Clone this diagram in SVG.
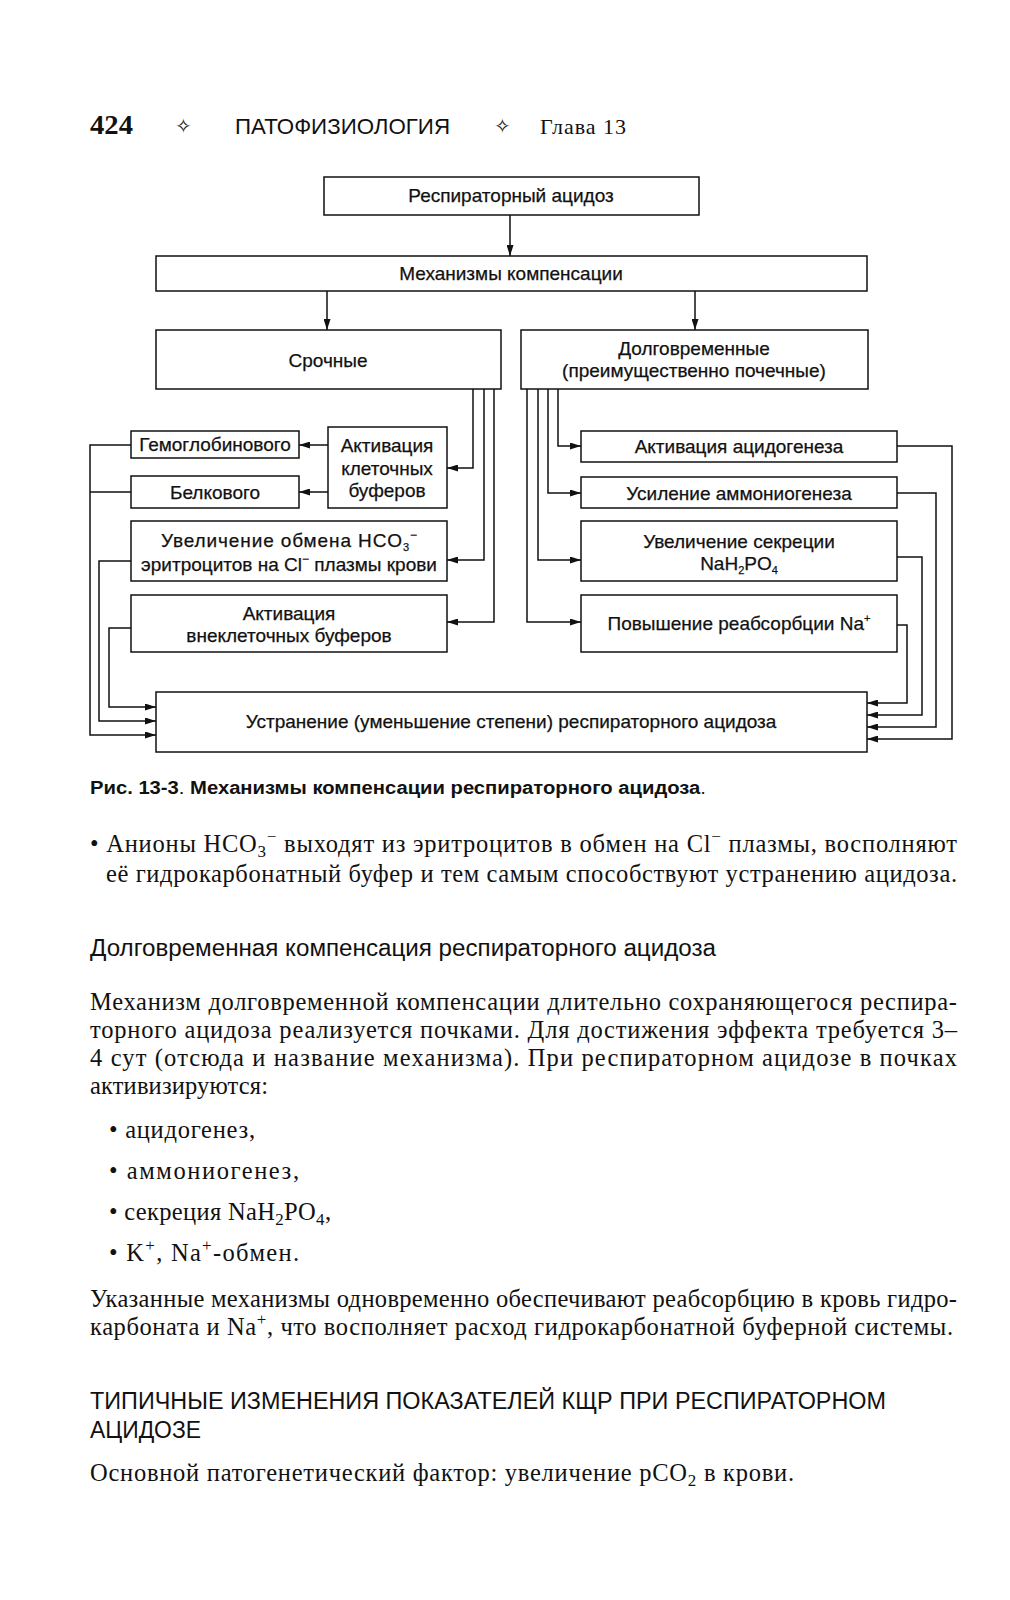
<svg xmlns="http://www.w3.org/2000/svg" width="1010" height="1600" viewBox="0 0 1010 1600">
<style>
.bg{fill:#ffffff}
.box{fill:#ffffff;stroke:#111;stroke-width:1.5}
.t{font-family:"Liberation Sans","Noto Sans",sans-serif;font-size:19px;fill:#111;stroke:#111;stroke-width:0.25;text-anchor:middle}
.c{fill:none;stroke:#111;stroke-width:1.5}
.body{font-family:"Liberation Serif","DejaVu Serif",serif;font-size:24.5px;fill:#111}
.h{font-family:"Liberation Sans","Noto Sans",sans-serif;font-size:23px;fill:#111}
</style>
<defs>
<marker id="ah" viewBox="0 0 11 7" refX="11" refY="3.5" markerWidth="11" markerHeight="7" orient="auto" markerUnits="userSpaceOnUse">
<path d="M0,0 L11,3.5 L0,7 Z" fill="#111"/>
</marker>
</defs>
<rect class="bg" x="0" y="0" width="1010" height="1600"/>

<g id="header">
<text x="90" y="134" font-family="Liberation Serif, serif" font-weight="bold" font-size="27" fill="#111" textLength="43" lengthAdjust="spacingAndGlyphs">424</text>
<text x="175" y="133" font-family="DejaVu Sans, sans-serif" font-size="20" fill="#111">✧</text>
<text x="235" y="134" font-family="Liberation Sans, sans-serif" font-size="22" fill="#111" textLength="215" lengthAdjust="spacingAndGlyphs">ПАТОФИЗИОЛОГИЯ</text>
<text x="494" y="133" font-family="DejaVu Sans, sans-serif" font-size="20" fill="#111">✧</text>
<text x="540" y="134" font-family="Liberation Serif, serif" font-size="22" fill="#111" textLength="86">Глава 13</text>
</g>

<g id="connectors">
<path class="c" marker-end="url(#ah)" d="M510,215 V256"/>
<path class="c" marker-end="url(#ah)" d="M327,291 V330"/>
<path class="c" marker-end="url(#ah)" d="M695,291 V330"/>
<path class="c" marker-end="url(#ah)" d="M473,389 V468 H447"/>
<path class="c" marker-end="url(#ah)" d="M484,389 V560 H447"/>
<path class="c" marker-end="url(#ah)" d="M494,389 V622 H447"/>
<path class="c" marker-end="url(#ah)" d="M328,445 H299"/>
<path class="c" marker-end="url(#ah)" d="M328,492 H299"/>
<path class="c" marker-end="url(#ah)" d="M558,389 V446 H581"/>
<path class="c" marker-end="url(#ah)" d="M548,389 V493 H581"/>
<path class="c" marker-end="url(#ah)" d="M538,389 V560 H581"/>
<path class="c" marker-end="url(#ah)" d="M527,389 V622 H581"/>
<path class="c" marker-end="url(#ah)" d="M131,445 H90 V735 H156"/>
<path class="c" d="M131,492 H90"/>
<path class="c" marker-end="url(#ah)" d="M131,561 H99 V721 H156"/>
<path class="c" marker-end="url(#ah)" d="M131,628 H109 V707 H156"/>
<path class="c" marker-end="url(#ah)" d="M897,446 H952 V739 H867"/>
<path class="c" marker-end="url(#ah)" d="M897,493 H936 V727 H867"/>
<path class="c" marker-end="url(#ah)" d="M897,557 H922 V715 H867"/>
<path class="c" marker-end="url(#ah)" d="M897,625 H907 V703 H867"/>
</g>

<g id="n-resp">
<rect class="box" x="324" y="177" width="375" height="38"/>
<text class="t" x="511" y="202">Респираторный ацидоз</text>
</g>
<g id="n-mech">
<rect class="box" x="156" y="256" width="711" height="35"/>
<text class="t" x="511" y="280">Механизмы компенсации</text>
</g>
<g id="n-urgent">
<rect class="box" x="156" y="330" width="345" height="59"/>
<text class="t" x="328" y="367">Срочные</text>
</g>
<g id="n-long">
<rect class="box" x="521" y="330" width="347" height="59"/>
<text class="t" x="694" y="355">Долговременные</text>
<text class="t" x="694" y="377">(преимущественно почечные)</text>
</g>
<g id="n-hemo">
<rect class="box" x="131" y="431" width="168" height="27"/>
<text class="t" x="215" y="451">Гемоглобинового</text>
</g>
<g id="n-cellbuf">
<rect class="box" x="328" y="427" width="119" height="81"/>
<text class="t" x="387" y="452">Активация</text>
<text class="t" x="387" y="475">клеточных</text>
<text class="t" x="387" y="497">буферов</text>
</g>
<g id="n-protein">
<rect class="box" x="131" y="476" width="168" height="32"/>
<text class="t" x="215" y="499">Белкового</text>
</g>
<g id="n-exchange">
<rect class="box" x="131" y="521" width="316" height="60"/>
<text class="t" x="289" y="547" textLength="256" lengthAdjust="spacing">Увеличение обмена HCO<tspan dy="4" font-size="11">3</tspan><tspan dy="-12" font-size="12">−</tspan></text>
<text class="t" x="289" y="571">эритроцитов на Cl<tspan dy="-8" font-size="12">−</tspan><tspan dy="8"> плазмы крови</tspan></text>
</g>
<g id="n-extbuf">
<rect class="box" x="131" y="595" width="316" height="57"/>
<text class="t" x="289" y="620">Активация</text>
<text class="t" x="289" y="642">внеклеточных буферов</text>
</g>
<g id="n-acido">
<rect class="box" x="581" y="431" width="316" height="31"/>
<text class="t" x="739" y="453">Активация ацидогенеза</text>
</g>
<g id="n-ammon">
<rect class="box" x="581" y="477" width="316" height="31"/>
<text class="t" x="739" y="500">Усиление аммониогенеза</text>
</g>
<g id="n-secr">
<rect class="box" x="581" y="521" width="316" height="60"/>
<text class="t" x="739" y="548">Увеличение секреции</text>
<text class="t" x="739" y="570">NaH<tspan dy="4" font-size="11">2</tspan><tspan dy="-4">PO</tspan><tspan dy="4" font-size="11">4</tspan></text>
</g>
<g id="n-reabs">
<rect class="box" x="581" y="595" width="316" height="57"/>
<text class="t" x="739" y="630">Повышение реабсорбции Na<tspan dy="-8" font-size="11">+</tspan></text>
</g>
<g id="n-result">
<rect class="box" x="156" y="692" width="711" height="60"/>
<text class="t" x="511" y="728">Устранение (уменьшение степени) респираторного ацидоза</text>
</g>

<g id="caption">
<text x="90" y="794" font-family="Liberation Sans, sans-serif" font-size="17.5" fill="#111" textLength="616" lengthAdjust="spacingAndGlyphs"><tspan font-weight="bold">Рис. 13-3</tspan>. <tspan font-weight="bold">Механизмы компенсации респираторного ацидоза</tspan>.</text>
</g>

<g id="text">
<text class="body" x="90" y="852" textLength="867" lengthAdjust="spacing">• Анионы HCO<tspan dy="5" font-size="17">3</tspan><tspan dy="-15" font-size="17">−</tspan><tspan dy="10"> выходят из эритроцитов в обмен на Cl</tspan><tspan dy="-10" font-size="17">−</tspan><tspan dy="10"> плазмы, восполняют</tspan></text>
<text class="body" x="106" y="882" textLength="851" lengthAdjust="spacing">её гидрокарбонатный буфер и тем самым способствуют устранению ацидоза.</text>
<text class="h" x="90" y="956" textLength="626" lengthAdjust="spacingAndGlyphs">Долговременная компенсация респираторного ацидоза</text>
<text class="body" x="90" y="1010" textLength="867" lengthAdjust="spacing">Механизм долговременной компенсации длительно сохраняющегося респира-</text>
<text class="body" x="90" y="1038" textLength="867" lengthAdjust="spacing">торного ацидоза реализуется почками. Для достижения эффекта требуется 3–</text>
<text class="body" x="90" y="1066" textLength="867" lengthAdjust="spacing">4 сут (отсюда и название механизма). При респираторном ацидозе в почках</text>
<text class="body" x="90" y="1094" textLength="178" lengthAdjust="spacing">активизируются:</text>
<text class="body" x="109" y="1138" textLength="146" lengthAdjust="spacing">• ацидогенез,</text>
<text class="body" x="109" y="1179" textLength="190" lengthAdjust="spacing">• аммониогенез,</text>
<text class="body" x="109" y="1220" textLength="222" lengthAdjust="spacing">• секреция  NaH<tspan dy="5" font-size="17">2</tspan><tspan dy="-5">PO</tspan><tspan dy="5" font-size="17">4</tspan><tspan dy="-5">,</tspan></text>
<text class="body" x="109" y="1261" textLength="190" lengthAdjust="spacing">• K<tspan dy="-10" font-size="17">+</tspan><tspan dy="10">, Na</tspan><tspan dy="-10" font-size="17">+</tspan><tspan dy="10">-обмен.</tspan></text>
<text class="body" x="90" y="1307" textLength="867" lengthAdjust="spacing">Указанные механизмы одновременно обеспечивают реабсорбцию в кровь гидро-</text>
<text class="body" x="90" y="1335" textLength="863" lengthAdjust="spacing">карбоната и Na<tspan dy="-10" font-size="17">+</tspan><tspan dy="10">, что восполняет расход гидрокарбонатной буферной системы.</tspan></text>
<text class="h" x="90" y="1409" font-size="23.5" textLength="796" lengthAdjust="spacingAndGlyphs">ТИПИЧНЫЕ ИЗМЕНЕНИЯ ПОКАЗАТЕЛЕЙ КЩР ПРИ РЕСПИРАТОРНОМ</text>
<text class="h" x="90" y="1438" font-size="23.5" textLength="111" lengthAdjust="spacingAndGlyphs">АЦИДОЗЕ</text>
<text class="body" x="90" y="1481" textLength="704" lengthAdjust="spacing">Основной патогенетический фактор: увеличение pCO<tspan dy="5" font-size="17">2</tspan><tspan dy="-5"> в крови.</tspan></text>
</g>
</svg>
